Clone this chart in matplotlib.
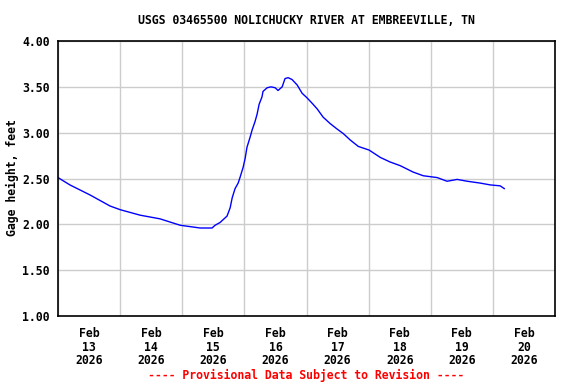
import numpy as np
import pandas as pd
import matplotlib
matplotlib.use('Agg')
import matplotlib.pyplot as plt

# hours since 2026-02-13 00:00 and gage height (feet)
hours = [0, 4.6, 12.4, 20.1, 24, 31.7, 39.4, 47.2, 54.9, 59.5, 60.7, 62.6, 65.3,
         66.5, 67.3, 68.4, 69.6, 70.3, 71.5, 72.3, 73.0, 74.2, 75.0, 76.1, 76.9,
         77.7, 78.8, 79.2, 80.8, 82.3, 83.9, 85.0, 86.6, 87.7, 88.9, 90.4, 92.4,
         94.3, 96.2, 98.2, 100.1, 102.4, 105.1, 107.8, 110.2, 112.9, 116.0, 120.2,
         124.5, 128.3, 132.2, 137.2, 141.1, 146.5, 150.3, 154.2, 158.1, 163.1,
         167.0, 170.8, 172.4]
gage = [2.51, 2.43, 2.32, 2.20, 2.16, 2.10, 2.06, 1.99, 1.96, 1.96, 1.99, 2.02, 2.09,
        2.18, 2.29, 2.39, 2.45, 2.51, 2.62, 2.72, 2.84, 2.95, 3.03, 3.12, 3.20,
        3.31, 3.39, 3.45, 3.49, 3.50, 3.49, 3.46, 3.50, 3.59, 3.60, 3.58, 3.52,
        3.43, 3.38, 3.32, 3.26, 3.17, 3.10, 3.04, 2.99, 2.92, 2.85, 2.81,
        2.73, 2.68, 2.64, 2.57, 2.53, 2.51, 2.47, 2.49, 2.47, 2.45,
        2.43, 2.42, 2.39]

title = "USGS 03465500 NOLICHUCKY RIVER AT EMBREEVILLE, TN"
ylabel = "Gage height, feet"
footer = "---- Provisional Data Subject to Revision ----"

start = pd.Timestamp("2026-02-13")
times = start + pd.to_timedelta(hours, unit="h")

font = {'family': 'DejaVu Sans Mono', 'weight': 'bold', 'size': 8.3}

fig = plt.figure(figsize=(5.76, 3.84), dpi=100)
ax = fig.add_axes([58/576, 1-316/384, (555-58)/576, (316-41)/384])

ax.plot(times, gage, color='#0000ff', lw=1)

ax.set_xlim(start, start + pd.Timedelta(days=8))
ax.set_ylim(1.0, 4.0)

# gridlines at midnight, labels at noon
days = [start + pd.Timedelta(days=i) for i in range(9)]
ax.set_xticks(days)
ax.set_xticklabels([])
noons = [start + pd.Timedelta(days=i, hours=12) for i in range(8)]
ax.set_xticks(noons, minor=True)
ax.set_xticklabels([d.strftime("%b\n%d\n%Y").replace("\n0", "\n") for d in noons],
                   minor=True, fontdict=font, linespacing=1.05)
ax.tick_params(axis='x', which='both', length=0, pad=8)

yt = np.arange(1.0, 4.01, 0.5)
ax.set_yticks(yt)
ax.set_yticklabels(["%.2f" % v for v in yt], fontdict=font)
ax.tick_params(axis='y', length=0, pad=6)

ax.grid(True, which='major', color='#cccccc', lw=1)
ax.set_axisbelow(True)
for s in ax.spines.values():
    s.set_color('black')
    s.set_linewidth(1.2)

fig.text(12/576, 1-178/384, ylabel, rotation=90, ha='center', va='center', **font)
fig.text(306/576, 1-20/384, title, ha='center', va='center', **font)
fig.text(306/576, 1-375/384, footer, ha='center', va='center', color='red', **font)

fig.savefig("out.png", dpi=100)
